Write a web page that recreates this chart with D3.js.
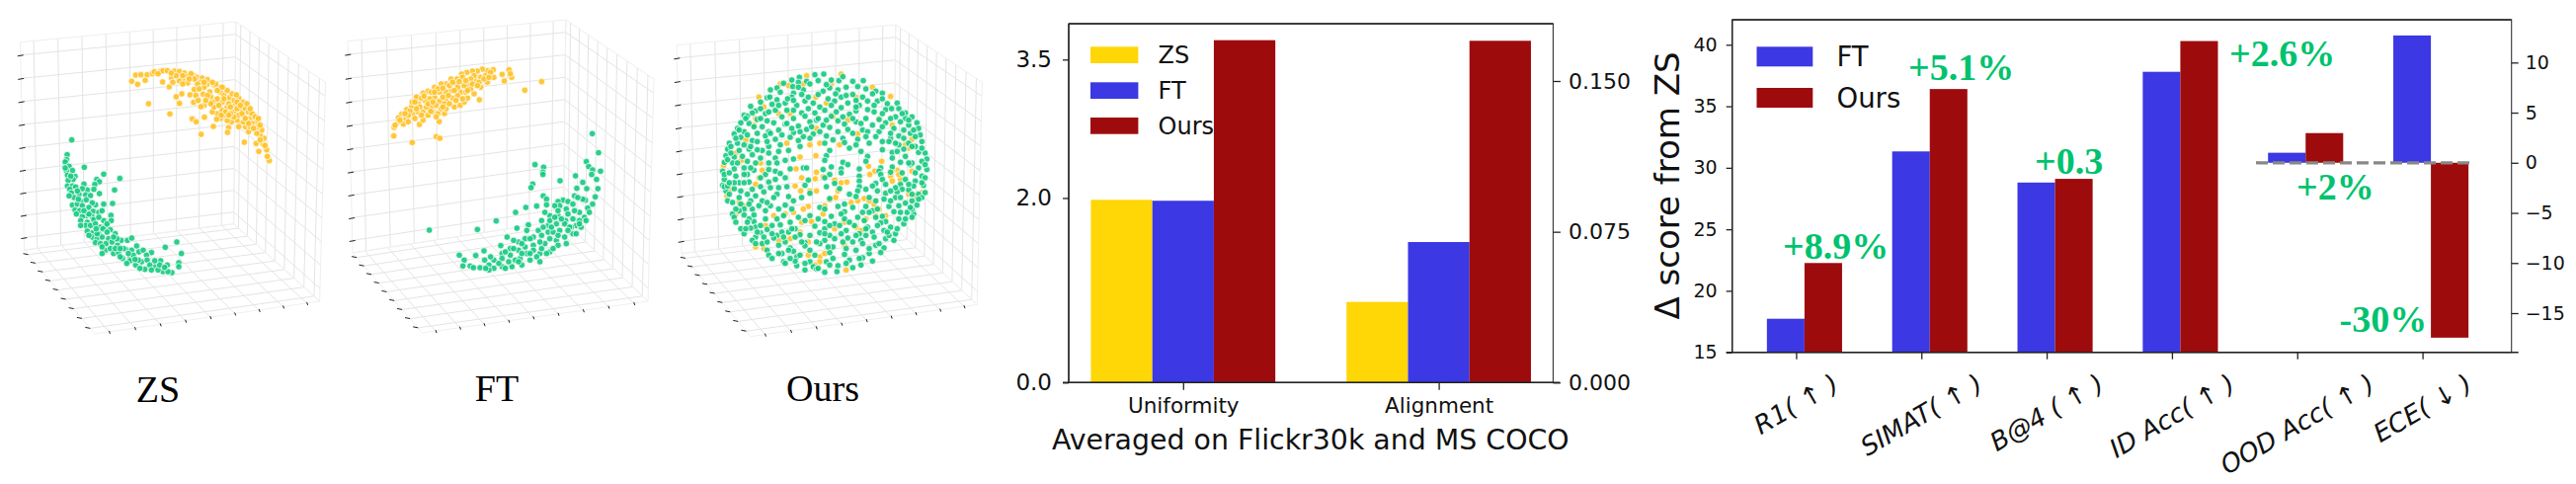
<!DOCTYPE html>
<html><head><meta charset="utf-8">
<script src="https://cdn.jsdelivr.net/npm/d3@7"></script>
<style>html,body{margin:0;padding:0;background:#fff}svg{display:block}</style>
</head><body><svg id="c" width="2608" height="490"></svg>
<script>
const zsYellow1=[[250,67],[262,48],[268,76],[278,47],[291,64],[297,47],[313,44],[319,38],[338,37],[345,35],[358,35],[344,69],[364,84],[371,57],[380,36],[395,37],[385,50],[410,42],[395,66],[412,65],[420,52],[438,50],[430,44],[448,55],[464,57],[460,70],[440,92],[420,72],[402,105],[385,114],[395,134],[427,108],[445,110],[467,106],[479,76],[487,99],[500,78],[515,85],[520,100],[505,125],[490,115],[470,140],[438,131],[460,144],[301,135],[366,166],[434,181],[446,190],[471,176],[498,204],[461,228],[544,208],[541,222],[592,252],[628,256],[636,280],[668,308],[662,295],[660,275],[649,258],[652,240],[640,230],[645,215],[630,225],[605,220],[595,205],[580,195],[570,185],[553,190],[540,186],[520,180],[510,165],[495,160],[505,140],[525,155],[540,145],[560,160],[575,170],[590,172],[610,180],[620,168],[628,190],[632,205],[615,195],[600,190],[588,130],[575,118],[560,125],[545,117],[530,110],[555,105],[540,95],[525,85],[505,75],[470,85],[450,75],[480,62],[495,70],[580,150],[565,140],[545,135],[525,130],[510,120],[595,150],[605,160],[585,165],[560,175],[530,170],[500,145],[615,165],[600,135],[440,60],[405,75],[375,70],[495,130],[515,140],[535,160],[550,165],[570,150],[590,190],[610,205],[620,210],[570,130],[580,140],[455,90],[480,110],[545,170],[610,150],[625,175],[640,200],[425,60],[470,70],[510,95],[530,120],[550,145],[568,108],[595,180],[575,205],[605,195],[522,170],[508,182],[490,135],[452,125],[475,125],[405,50],[370,42],[330,44],[640,245],[655,262],[635,180]];
const zsGreen1=[[68,245],[54,290],[52,305],[48,312],[106,328],[60,325],[70,338],[52,340],[55,352],[78,356],[72,365],[57,368],[165,349],[214,362],[144,365],[152,372],[138,380],[105,379],[55,385],[70,385],[80,388],[62,395],[198,397],[135,395],[115,397],[100,393],[152,408],[67,406],[90,410],[110,412],[125,414],[75,420],[97,432],[112,427],[192,438],[165,440],[140,442],[130,436],[70,443],[85,440],[100,445],[120,450],[78,458],[92,460],[112,475],[133,462],[150,465],[160,460],[187,474],[130,478],[100,478],[82,470],[95,490],[115,495],[135,487],[165,490],[188,490],[110,505],[125,505],[140,500],[155,510],[170,508],[115,522],[132,527],[150,530],[163,515],[185,518],[175,525],[200,530],[130,540],[145,545],[160,540],[180,545],[203,548],[218,550],[237,550],[250,543],[140,557],[155,560],[172,560],[190,555],[170,580],[160,570],[185,575],[207,565],[232,578],[250,580],[265,567],[195,590],[210,588],[222,605],[245,603],[255,595],[272,585],[285,580],[310,587],[295,595],[352,571],[387,555],[401,590],[338,612],[393,618],[393,630],[358,625],[245,612],[262,625],[280,615],[297,610],[320,630],[290,638],[345,645],[372,648],[360,645],[330,640],[305,625],[240,590],[225,575],[205,545],[195,540],[145,530],[120,470],[200,575],[270,610],[310,640],[335,625],[88,425],[105,460],[150,480],[142,515],[120,535],[215,575],[215,600],[235,620],[275,635],[350,632],[320,612],[260,608],[175,500],[95,505],[85,400],[60,415],[48,330],[65,355],[160,590]];
const ftYellow2=[[56,233],[57,207],[70,190],[85,197],[134,198],[93,180],[80,167],[112,253],[185,235],[196,240],[194,189],[316,123],[454,94],[505,68],[392,66],[385,46],[406,32],[414,55],[410,44],[358,32],[340,35],[325,30],[310,36],[295,36],[278,40],[262,45],[248,60],[230,60],[215,75],[200,75],[180,85],[160,97],[145,103],[128,117],[110,145],[95,153],[115,165],[130,160],[145,160],[160,170],[175,160],[190,165],[210,165],[215,150],[240,145],[258,140],[270,130],[280,118],[300,105],[320,85],[340,70],[360,55],[285,80],[305,65],[320,55],[265,55],[245,75],[230,95],[260,100],[215,100],[195,100],[180,115],[165,120],[150,125],[130,135],[112,130],[135,145],[170,145],[195,128],[215,125],[235,118],[250,110],[270,80],[290,90],[250,85],[210,135],[185,140],[155,145],[120,180],[145,185],[185,175],[205,115],[225,80],[275,100],[300,50],[335,50],[350,40],[240,95],[265,120],[70,178],[105,158],[125,115],[60,200],[75,185],[100,170],[140,118],[170,100],[190,90],[235,70],[255,68],[290,60],[315,70],[330,60],[200,150],[225,135],[160,135],[125,150],[295,75],[275,65],[180,100],[205,88],[120,130],[148,112],[245,125],[222,110],[175,130],[140,170],[168,158],[90,165],[310,80],[345,55],[280,95],[205,145],[100,190]];
const ftGreen2=[[659,226],[678,284],[641,311],[648,326],[660,336],[684,340],[657,350],[608,354],[561,369],[485,320],[511,328],[509,343],[509,350],[478,379],[473,390],[672,365],[630,374],[676,393],[642,393],[612,392],[510,415],[520,425],[638,428],[605,415],[668,418],[630,425],[615,420],[570,428],[555,432],[585,432],[600,440],[580,455],[560,445],[545,445],[520,442],[490,446],[457,450],[426,465],[367,491],[310,517],[164,519],[660,440],[645,452],[635,480],[620,465],[600,485],[578,490],[555,475],[530,475],[515,465],[505,490],[465,503],[430,513],[400,540],[381,566],[255,595],[270,610],[266,628],[288,628],[305,596],[330,582],[298,633],[318,633],[332,610],[345,625],[360,610],[385,590],[410,575],[435,555],[460,520],[495,520],[525,505],[550,500],[575,500],[610,505],[625,510],[600,530],[575,540],[550,550],[525,525],[505,535],[480,540],[455,545],[420,550],[480,565],[455,570],[435,580],[410,595],[385,605],[360,635],[385,630],[415,630],[445,625],[470,610],[500,590],[530,585],[555,565],[580,560],[540,575],[515,560],[490,600],[460,590],[440,605],[405,615],[345,640],[375,620],[425,610],[530,545],[560,520],[595,510],[540,525],[510,510],[640,490],[650,465],[530,490],[555,460],[505,575],[480,580],[620,490],[590,510],[565,485],[545,480],[610,530],[335,635],[395,635],[435,615],[470,590],[500,555],[470,545],[445,560],[420,575],[395,585],[350,600],[520,590],[555,535],[585,520],[620,500],[535,510],[585,470],[605,460],[500,615],[445,590]];
const oursYellow3=[[235,65],[210,60],[365,60],[318,100],[545,98],[445,212],[130,185],[135,165],[92,292],[38,308],[155,322],[145,345],[135,365],[48,400],[85,420],[258,318],[275,345],[316,348],[318,278],[270,282],[300,245],[330,240],[390,245],[518,295],[478,310],[497,325],[482,335],[565,322],[545,340],[575,350],[600,255],[610,325],[610,228],[320,328],[340,342],[375,352],[395,360],[412,358],[255,370],[272,385],[300,385],[320,385],[385,385],[360,412],[378,405],[345,430],[425,420],[445,415],[465,408],[480,415],[495,425],[510,440],[530,460],[305,478],[275,480],[250,450],[225,455],[190,460],[165,490],[440,495],[405,480],[340,455],[295,432],[280,440],[295,580],[330,585],[295,540],[405,550],[160,560],[135,555],[375,500],[330,600],[410,625],[350,118],[370,160],[415,170],[320,195],[230,240],[240,150],[205,150],[160,130],[145,100],[280,60],[440,100],[510,165],[550,185],[105,230],[75,270],[600,395],[620,400],[570,335],[550,320],[500,460],[470,470],[205,535],[270,510],[240,530],[100,430],[60,380],[75,455],[395,30],[290,35],[490,70],[150,300],[550,355],[590,245],[640,390],[455,505],[315,610],[345,575]];
const oursGreen3=[[245,48],[268,40],[290,52],[315,32],[342,30],[365,48],[388,50],[220,58],[248,68],[265,55],[300,60],[325,50],[360,72],[400,38],[430,52],[462,50],[180,78],[200,72],[250,88],[280,78],[340,82],[385,78],[410,70],[445,68],[470,75],[500,82],[170,102],[200,108],[245,100],[275,92],[310,118],[355,105],[395,100],[430,92],[460,100],[490,90],[520,88],[120,128],[150,115],[185,122],[225,118],[260,125],[285,112],[330,130],[375,112],[415,118],[450,125],[505,112],[535,120],[565,118],[100,155],[135,142],[165,150],[195,140],[250,140],[275,148],[315,148],[345,140],[395,132],[440,142],[475,138],[495,145],[530,138],[570,135],[590,148],[90,178],[110,158],[140,168],[170,172],[215,160],[250,165],[285,158],[320,170],[365,158],[420,152],[470,165],[510,168],[560,160],[590,165],[610,160],[80,195],[115,180],[155,190],[190,178],[225,182],[265,188],[300,175],[340,185],[385,172],[405,182],[440,175],[490,185],[530,178],[575,175],[600,185],[625,178],[70,212],[100,205],[140,210],[175,205],[205,200],[250,208],[290,198],[330,205],[360,192],[415,198],[460,200],[510,205],[555,195],[585,200],[630,195],[55,240],[90,222],[125,232],[165,218],[195,228],[240,222],[280,220],[310,212],[350,218],[400,225],[445,228],[500,220],[545,225],[570,218],[605,210],[635,215],[50,258],[80,240],[115,258],[155,262],[210,245],[265,232],[300,225],[345,240],[405,238],[440,245],[480,240],[540,235],[570,245],[600,240],[640,235],[45,278],[85,262],[125,275],[175,250],[205,265],[235,262],[270,250],[360,262],[420,255],[455,265],[550,268],[585,258],[620,250],[650,270],[40,298],[70,282],[110,295],[150,285],[195,285],[250,288],[280,315],[350,278],[475,280],[550,285],[590,280],[630,268],[655,288],[35,325],[65,300],[100,315],[135,300],[200,300],[225,292],[345,292],[400,298],[470,295],[515,315],[575,298],[605,305],[640,295],[40,350],[70,318],[110,335],[130,322],[195,325],[240,318],[290,315],[340,320],[365,312],[395,318],[415,305],[450,318],[510,325],[550,312],[610,300],[630,315],[655,320],[35,368],[75,340],[115,358],[165,335],[210,332],[360,335],[395,330],[450,340],[515,335],[545,328],[580,330],[640,340],[45,385],[85,360],[125,380],[175,358],[225,345],[295,352],[345,345],[375,362],[450,355],[500,362],[520,350],[575,365],[620,355],[650,345],[40,372],[70,378],[110,395],[150,372],[180,375],[230,372],[285,368],[350,372],[390,378],[450,372],[490,370],[530,365],[580,380],[615,370],[645,368],[55,395],[85,405],[120,415],[160,388],[200,395],[235,402],[275,405],[300,392],[420,395],[445,385],[530,392],[565,388],[600,382],[630,395],[50,415],[90,425],[125,440],[155,415],[190,405],[250,415],[360,408],[405,425],[440,402],[480,405],[525,410],[560,405],[610,415],[640,405],[65,455],[100,440],[130,458],[180,430],[225,428],[330,435],[385,432],[405,448],[430,435],[470,432],[500,415],[540,432],[590,422],[625,428],[70,465],[100,458],[130,478],[165,445],[220,460],[300,460],[345,440],[395,455],[460,450],[490,445],[520,462],[555,448],[595,450],[615,455],[75,480],[115,470],[135,495],[200,470],[240,480],[285,475],[345,478],[365,462],[405,470],[465,475],[500,465],[530,478],[570,470],[610,465],[90,500],[120,498],[150,512],[210,488],[255,500],[315,492],[345,500],[375,485],[435,490],[475,495],[515,482],[545,495],[585,485],[100,515],[135,525],[170,502],[200,520],[235,510],[270,518],[330,512],[360,520],[410,505],[450,515],[490,510],[525,505],[560,515],[125,535],[155,545],[190,528],[225,540],[255,525],[285,542],[345,535],[375,530],[415,528],[455,535],[495,525],[530,530],[555,535],[135,545],[170,565],[205,550],[240,558],[285,552],[330,545],[370,555],[410,560],[460,545],[500,550],[525,558],[175,580],[215,575],[250,568],[300,565],[360,572],[405,578],[440,565],[480,575],[515,572],[185,590],[220,600],[260,585],[300,600],[370,590],[420,595],[460,588],[490,598],[225,605],[260,612],[310,615],[350,600],[385,612],[430,618],[285,625],[345,632],[382,630],[320,622],[255,598],[455,610],
[105,165],[125,148],[150,135],[178,100],[210,85],[232,105],[265,70],[295,100],[325,92],[350,62],[378,90],[410,95],[440,110],[475,112],[520,105],[548,135],[580,150],[600,170],[615,200],[640,255],[650,305],[640,360],[630,410],[610,440],[590,470],[565,500],[540,520],[510,545],[480,560],[450,590],[410,605],[360,610],[325,620],[285,605],[240,590],[205,575],[170,540],[140,510],[110,480],[85,445],[65,420],[50,370],[40,335],[50,290],[60,250],[75,225],[85,200],[60,270],[95,280],[120,250],[140,235],[170,235],[100,335],[90,385],[135,400],[145,430],[115,425],[165,470],[185,490],[185,515],[215,510],[245,500],[275,540],[300,520],[320,540],[345,515],[395,515],[430,540],[470,520],[505,490],[535,510],[575,450],[570,430],[605,435],[545,415],[505,440],[480,450],[445,465],[420,480],[390,490],[360,490],[325,470],[265,465],[245,440],[205,440],[170,420],[205,375],[195,350],[150,345],[100,360],[70,360],[230,180],[245,195],[270,205],[305,190],[325,165],[350,170],[380,145],[400,160],[430,165],[455,180],[475,205],[520,190],[545,210],[560,240],[585,225],[620,220],[610,250],[565,265],[600,300],[620,330],[590,350],[600,365],[560,375],[545,385],[505,385],[470,380],[610,395],[650,390],[575,405],[470,500],[440,520],[400,540],[355,555],[315,580],[270,580],[235,565],[220,525],[160,525],[150,490],[105,500],[75,440],[55,360],[55,330],[120,315],[80,300],[175,320],[175,300],[175,270],[140,260],[100,245],[250,110],[230,140],[205,125],[175,145],[150,165],[130,190],[110,215],[180,210],[215,215],[295,135],[365,125],[440,130],[520,150],[495,125],[545,165],[370,230],[385,205],[430,210],[470,220],[520,235],[520,260]];
const scatterTicks=[-0.8,-0.6,-0.4,-0.2,0,0.2,0.4,0.6,0.8];
const panelCaptions=["ZS","FT","Ours"];
const alignSeries=["ZS","FT","Ours"];
const alignCats=["Uniformity","Alignment"];
const uniformityVals=[1.98,1.97,3.71];
const alignmentVals=[0.0401,0.0699,0.170];
const alignLeftTicks=[0,2,3.5];
const alignRightTicks=[0,0.075,0.15];
const deltaSeries=["FT","Ours"];
const deltaCats=["R1( ↑ )","SIMAT( ↑ )","B@4 ( ↑ )","ID Acc( ↑ )","OOD Acc( ↑ )","ECE( ↓ )"];
const deltaFT=[17.73,31.33,28.8,37.8];
const deltaOurs=[22.26,36.4,29.1,40.3];
const deltaFTRight=[1.0,12.7];
const deltaOursRight=[2.96,-17.45];
const deltaLabels=["+8.9%","+5.1%","+0.3","+2.6%","+2%","-30%"];
const deltaLeftTicks=[15,20,25,30,35,40];
const deltaRightTicks=[-15,-10,-5,0,5,10];
const colors={ZS:"#ffd606",FT:"#3b38e4",Ours:"#9e0b0d"};
const svg=d3.select("#c");

function homography(p){const[[x0,y0],[x1,y1],[x2,y2],[x3,y3]]=p;
 const dx1=x1-x2,dx2=x3-x2,sx=x0-x1+x2-x3,dy1=y1-y2,dy2=y3-y2,sy=y0-y1+y2-y3,den=dx1*dy2-dx2*dy1;
 const g=(sx*dy2-dx2*sy)/den,h=(dx1*sy-sx*dy1)/den,a=x1-x0+g*x1,b=x3-x0+h*x3,d=y1-y0+g*y1,e=y3-y0+h*y3;
 return(u,v)=>{const w=g*u+h*v+1;return[(a*u+b*v+x0)/w,(d*u+e*v+y0)/w];};}
const tf=d3.scaleLinear().domain([-0.91,0.91]).range([0,1]);

function panel(cfg){
 const g=svg.append("g");
 const{A,B,C,D,E,F,G}=cfg;
 const qs=[homography([A,B,C,D]),homography([B,E,F,C]),homography([D,C,F,G])];
 qs.forEach(q=>{
  const seg=(a,b)=>g.append("line").attr("x1",a[0]).attr("y1",a[1]).attr("x2",b[0]).attr("y2",b[1]).attr("stroke","#e4e4e4").attr("stroke-width",1);
  scatterTicks.forEach(t=>{const s=tf(t);seg(q(s,0),q(s,1));seg(q(0,s),q(1,s));});
  [[0,0,1,0],[1,0,1,1],[1,1,0,1],[0,1,0,0]].forEach(o=>{const a=q(o[0],o[1]),b=q(o[2],o[3]);
   g.append("line").attr("x1",a[0]).attr("y1",a[1]).attr("x2",b[0]).attr("y2",b[1]).attr("stroke","#efefef").attr("stroke-width",1);});
 });
 const tick=(p,dx1,dy1,dx2,dy2)=>g.append("line").attr("x1",p[0]+dx1).attr("y1",p[1]+dy1).attr("x2",p[0]+dx2).attr("y2",p[1]+dy2).attr("stroke","#222").attr("stroke-width",1);
 scatterTicks.forEach(t=>{const s=tf(t);
  tick(qs[0](0,s),-3,1,3,0);
  tick(qs[2](0,s),-5,-1,0,0);
  tick(qs[2](s,1),0,-1,1,2);
 });
 const sx=d3.scaleLinear().domain(cfg.dx).range(cfg.rx),sy=d3.scaleLinear().domain(cfg.dy).range(cfg.ry);
 [[cfg.first,"#ffc126"],[cfg.second,"#14c97e"]].forEach(([pts,col])=>{
  g.append("g").selectAll("circle").data(pts).join("circle")
   .attr("cx",d=>sx(d[0])).attr("cy",d=>sy(d[1])).attr("r",3.3)
   .attr("fill",col).attr("fill-opacity",.9).attr("stroke","#fff").attr("stroke-width",.9).attr("stroke-opacity",.85);
 });
 svg.append("text").attr("x",cfg.cx).attr("y",cfg.cy).attr("text-anchor","middle")
  .attr("font-family","'Liberation Serif'").attr("font-size",cfg.fs).attr("fill","#000").text(cfg.caption);
}
panel({A:[20.5,42.7],B:[238.8,22],C:[236.6,226.7],D:[24.6,253],E:[329.5,83.3],F:[323.7,305],G:[96,338],
 first:zsYellow1,second:zsGreen1,dx:[0,720],dy:[0,690],rx:[50,290],ry:[60,290],caption:panelCaptions[0],cx:160,cy:407,fs:38});
panel({A:[352,41.7],B:[572.8,20],C:[570.5,223],D:[357,256],E:[662,80],F:[656,305],G:[427.7,337],
 first:ftYellow2,second:ftGreen2,dx:[0,720],dy:[0,690],rx:[380,620],ry:[60,290],caption:panelCaptions[1],cx:503,cy:405.7,fs:38});
panel({A:[685,45.7],B:[906.7,25],C:[905,230],D:[690,256.7],E:[994.3,83.3],F:[989.3,308.3],G:[760,340.7],
 first:oursYellow3,second:oursGreen3,dx:[0,690],dy:[0,660],rx:[720,950],ry:[65,285],caption:panelCaptions[2],cx:833,cy:406,fs:38});

function styleAxis(g,fs){g.selectAll("text").attr("font-family","'DejaVu Sans'").attr("font-size",fs).attr("fill","#111");
 g.selectAll("line").attr("stroke","#222").attr("stroke-width",1.3);g.select(".domain").remove();}
function frame(l,t,r,b){
 const f=svg.append("g");
 f.append("rect").attr("x",l).attr("y",t).attr("width",r-l).attr("height",b-t).attr("fill","none").attr("stroke","#333").attr("stroke-width",1.1);
 f.append("line").attr("x1",l-6).attr("x2",r+7).attr("y1",b).attr("y2",b).attr("stroke","#222").attr("stroke-width",1.6);
 f.append("line").attr("x1",l).attr("x2",r).attr("y1",t).attr("y2",t).attr("stroke","#222").attr("stroke-width",1.5);
 f.append("line").attr("x1",l).attr("x2",l).attr("y1",t).attr("y2",b).attr("stroke","#222").attr("stroke-width",1.4);
}
function legend(items,x0,x1,tops,bots,tx,fs){
 items.forEach((k,i)=>{
  svg.append("rect").attr("x",x0).attr("width",x1-x0).attr("y",tops[i]).attr("height",bots[i]-tops[i]).attr("fill",colors[k]);
  svg.append("text").attr("x",tx).attr("y",bots[i]).attr("font-family","'DejaVu Sans'").attr("font-size",fs).attr("fill","#111").text(k);
 });
}

// middle chart
{
 const L=1082,R=1572.4,T=24,B=387.3;
 const x=d3.scaleLinear().domain([0,1]).range([1197.8,1456.6]);
 const yl=d3.scaleLinear().domain([0,3.5]).range([B,60.3]);
 const yr=d3.scaleLinear().domain([0,0.15]).range([B,82]);
 const w=0.2405;
 alignSeries.forEach((k,i)=>{
  const l=-1.5*w+i*w;
  svg.append("rect").attr("x",x(0+l)).attr("width",x(w)-x(0)).attr("y",yl(uniformityVals[i])).attr("height",B-yl(uniformityVals[i])).attr("fill",colors[k]);
  svg.append("rect").attr("x",x(1+l)).attr("width",x(w)-x(0)).attr("y",yr(alignmentVals[i])).attr("height",B-yr(alignmentVals[i])).attr("fill",colors[k]);
 });
 frame(L,T,R,B);
 const ax=svg.append("g").attr("transform",`translate(${L},0)`).call(d3.axisLeft(yl).tickValues(alignLeftTicks).tickFormat(d3.format(".1f")).tickSize(6).tickPadding(11));
 styleAxis(ax,23);
 const ar=svg.append("g").attr("transform",`translate(${R},0)`).call(d3.axisRight(yr).tickValues(alignRightTicks).tickFormat(d3.format(".3f")).tickSize(7.5).tickPadding(8));
 styleAxis(ar,22);
 const ab=svg.append("g").attr("transform",`translate(0,${B})`).call(d3.axisBottom(x).tickValues([0,1]).tickFormat(i=>alignCats[i]).tickSize(7.5).tickPadding(8));
 styleAxis(ab,21.5);
 legend(alignSeries,1104,1152.4,[47.3,83.3,119],[64,100,135.7],1172.6,24);
 svg.append("text").attr("x",1326.8).attr("y",455).attr("text-anchor","middle").attr("font-family","'DejaVu Sans'").attr("font-size",28.4).attr("fill","#111").text("Averaged on Flickr30k and MS COCO");
}
// right chart
{
 const L=1753.7,R=2542.7,T=20,B=356.7;
 const x=d3.scaleLinear().domain([0,5]).range([1818.4,2452.6]);
 const yl=d3.scaleLinear().domain([15,40]).range([B,45.3]);
 const yr=d3.scaleLinear().domain([-15,10]).range([317,63.3]);
 const w=0.3,o=-0.233;
 const bx=(i,s)=>x(i+o+s*w);
 const bw=x(w)-x(0);
 deltaFT.forEach((v,i)=>svg.append("rect").attr("x",bx(i,0)).attr("width",bw).attr("y",yl(v)).attr("height",B-yl(v)).attr("fill",colors.FT));
 deltaOurs.forEach((v,i)=>svg.append("rect").attr("x",bx(i,1)).attr("width",bw).attr("y",yl(v)).attr("height",B-yl(v)).attr("fill",colors.Ours));
 deltaFTRight.forEach((v,i)=>svg.append("rect").attr("x",bx(i+4,0)).attr("width",bw).attr("y",Math.min(yr(v),yr(0))).attr("height",Math.abs(yr(v)-yr(0))).attr("fill",colors.FT));
 deltaOursRight.forEach((v,i)=>svg.append("rect").attr("x",bx(i+4,1)).attr("width",bw).attr("y",Math.min(yr(v),yr(0))).attr("height",Math.abs(yr(v)-yr(0))).attr("fill",colors.Ours));
 svg.append("line").attr("x1",2284).attr("x2",2505).attr("y1",yr(0)).attr("y2",yr(0)).attr("stroke","#888").attr("stroke-width",3.2).attr("stroke-dasharray","12 5");
 frame(L,T,R,B);
 const ax=svg.append("g").attr("transform",`translate(${L},0)`).call(d3.axisLeft(yl).tickValues(deltaLeftTicks).tickSize(6).tickPadding(9));
 styleAxis(ax,19);
 const ar=svg.append("g").attr("transform",`translate(${R},0)`).call(d3.axisRight(yr).tickValues(deltaRightTicks).tickSize(7).tickPadding(7));
 styleAxis(ar,19);
 const ab=svg.append("g").attr("transform",`translate(0,${B})`).call(d3.axisBottom(x).tickValues(d3.range(6)).tickFormat(()=>"").tickSize(7));
 styleAxis(ab,10);
 deltaCats.forEach((c,i)=>{
  const t=svg.append("text").attr("font-family","'DejaVu Sans'").attr("font-style","italic").attr("font-size",26).attr("fill","#111").attr("text-anchor","middle").attr("dominant-baseline","central").text(c);
  const bb=t.node().getBBox();
  const h=bb.width*0.5+bb.height*0.866;
  t.attr("transform",`translate(${x(i)},${373+h/2}) rotate(-30)`);
 });
 legend(deltaSeries,1778.5,1835.3,[47.3,89],[67.3,109],1859.5,27.5);
 svg.append("text").attr("transform","translate(1700,188) rotate(-90)").attr("text-anchor","middle").attr("font-family","'DejaVu Sans'").attr("font-size",34).attr("fill","#111").text("Δ score from ZS");
 const lx=[1805,1932,2060,2257,2325,2368.6],ly=[261.7,81,175.7,66.7,202.3,335.7];
 deltaLabels.forEach((s,i)=>svg.append("text").attr("x",lx[i]).attr("y",ly[i]).attr("font-family","'Liberation Serif'").attr("font-weight","bold").attr("font-size",38).attr("fill","#00c26e").text(s));
}
</script></body></html>
